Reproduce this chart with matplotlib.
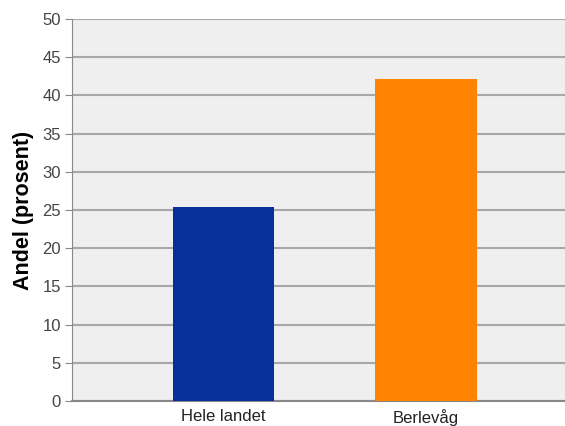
import matplotlib
matplotlib.use('Agg')
import matplotlib.pyplot as plt

categories = ['Hele landet', 'Berlevåg']
values = [25.4, 42.2]
colors = ['#06319a', '#ff8300']
yticks = [0, 5, 10, 15, 20, 25, 30, 35, 40, 45, 50]

plt.rcParams['font.family'] = ['Liberation Sans', 'DejaVu Sans']

fig = plt.figure(figsize=(5.65, 4.26), dpi=100)
ax = fig.add_axes([72 / 565, 25 / 426, 1 - 72 / 565, 382 / 426])
ax.set_facecolor('#efefef')

ax.bar(range(len(categories)), values, width=0.5, color=colors, zorder=3)

ax.set_ylim(0, 50)
ax.set_xlim(-0.748, 1.686)
ax.set_yticks(yticks)
ax.set_xticks(range(len(categories)))
ax.set_xticklabels(categories)
ax.yaxis.grid(True, color='#a8a8a8', linewidth=1.5, zorder=0)
ax.set_axisbelow(True)

for s in ['top', 'right']:
    ax.spines[s].set_visible(False)
ax.spines['left'].set_color('#888888')
ax.spines['bottom'].set_color('#888888')
ax.spines['bottom'].set_linewidth(1.5)

ax.tick_params(axis='y', length=5, color='#888888', labelsize=12, labelcolor='#444444', pad=3)
ax.tick_params(axis='x', length=0, labelsize=12, labelcolor='#222222', pad=6)

ax.set_ylabel('Andel (prosent)', fontsize=15.5, fontweight='bold', labelpad=6)

fig.savefig('out.png', dpi=100)
